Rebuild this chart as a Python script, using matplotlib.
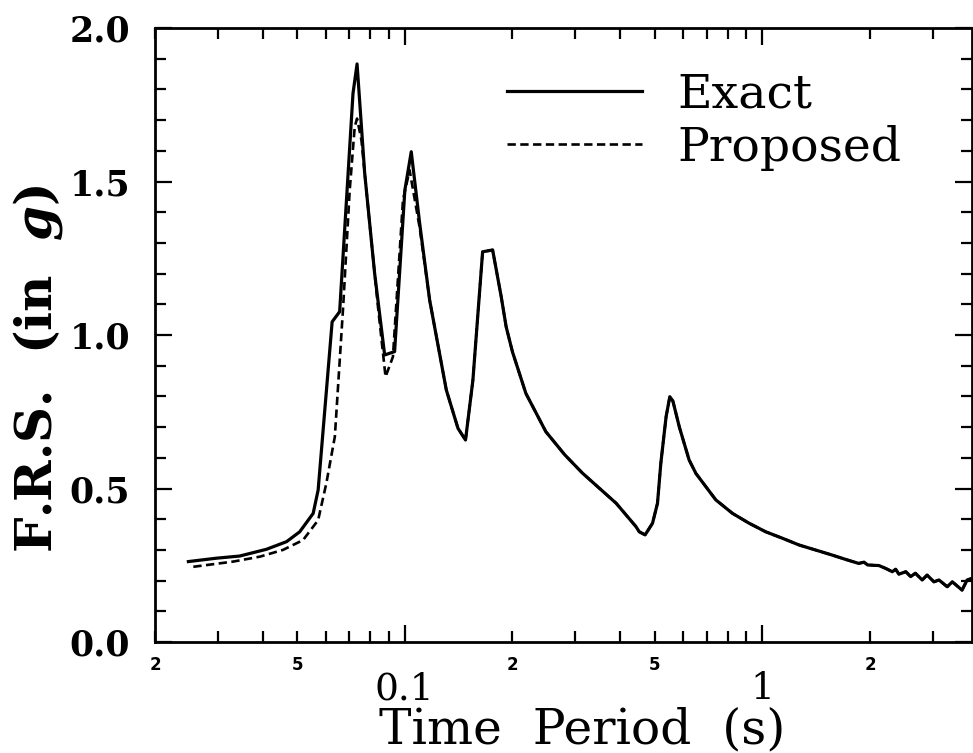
"""Floor response spectrum: exact vs proposed, log period axis."""

import matplotlib
matplotlib.use("Agg")
import matplotlib.pyplot as plt
from matplotlib.ticker import FixedLocator, FixedFormatter

# period (s) and F.R.S. (g)
period_exact = [0.0248, 0.0297, 0.0345, 0.0410, 0.0467, 0.0508, 0.0554, 0.0572,
                0.0626, 0.0657, 0.0716, 0.0735, 0.0772, 0.0823, 0.0878, 0.0936,
                0.1000, 0.1042, 0.1100, 0.1173, 0.1306, 0.1408, 0.1478, 0.1550,
                0.1650, 0.1760, 0.1860, 0.1920, 0.2000, 0.2180, 0.2480, 0.2800,
                0.3140, 0.3900, 0.4430, 0.4526, 0.4700, 0.4930, 0.5090, 0.5200,
                0.5380, 0.5510, 0.5620, 0.5860, 0.6240, 0.6520, 0.6950, 0.7410,
                0.8250, 0.9180, 1.0220, 1.1380, 1.2670, 1.5700, 1.7100, 1.8600,
                1.9250, 1.9700, 2.1200, 2.2100, 2.3100, 2.3600, 2.4100, 2.5200,
                2.6000, 2.6800, 2.8000, 2.8900, 3.0200, 3.1200, 3.2900, 3.4000,
                3.6200, 3.7400, 3.8500]
frs_exact = [0.262, 0.273, 0.280, 0.302, 0.327, 0.359, 0.419, 0.495,
             1.043, 1.076, 1.787, 1.883, 1.527, 1.201, 0.935, 0.946,
             1.472, 1.597, 1.364, 1.114, 0.821, 0.696, 0.658, 0.853,
             1.271, 1.277, 1.125, 1.027, 0.945, 0.810, 0.685, 0.610,
             0.550, 0.452, 0.376, 0.359, 0.349, 0.387, 0.452, 0.582,
             0.734, 0.799, 0.785, 0.700, 0.593, 0.549, 0.506, 0.463,
             0.419, 0.387, 0.359, 0.338, 0.316, 0.283, 0.269, 0.256,
             0.260, 0.251, 0.249, 0.240, 0.229, 0.237, 0.221, 0.229,
             0.213, 0.224, 0.202, 0.218, 0.196, 0.202, 0.180, 0.196,
             0.169, 0.202, 0.207]

# proposed curve differs only up to ~0.11 s, then follows the exact one
period_prop_head = [0.0256, 0.0331, 0.0393, 0.0456, 0.0519, 0.0572, 0.0603,
                    0.0637, 0.0672, 0.0701, 0.0724, 0.0735, 0.0756, 0.0797,
                    0.0841, 0.0883, 0.0926, 0.0988, 0.1031, 0.1100]
frs_prop_head = [0.245, 0.262, 0.278, 0.300, 0.332, 0.397, 0.517,
                 0.669, 1.092, 1.472, 1.678, 1.705, 1.635, 1.364,
                 1.092, 0.864, 0.929, 1.440, 1.537, 1.350]
tail_from = period_exact.index(0.1173)
period_prop = period_prop_head + period_exact[tail_from:]
frs_prop = frs_prop_head + frs_exact[tail_from:]

x_major = [0.1, 1]
x_major_labels = ["0.1", "1"]
x_minor = [0.02, 0.03, 0.04, 0.05, 0.06, 0.07, 0.08, 0.09,
           0.2, 0.3, 0.4, 0.5, 0.6, 0.7, 0.8, 0.9, 2, 3]
x_minor_labels = ["2", "", "", "5", "", "", "", "",
                  "2", "", "", "5", "", "", "", "", "2", ""]
y_major = [0.0, 0.5, 1.0, 1.5, 2.0]

plt.rcParams["font.family"] = "DejaVu Serif"
plt.rcParams["mathtext.fontset"] = "custom"
plt.rcParams["mathtext.it"] = "DejaVu Serif:italic:bold"
plt.rcParams["lines.scale_dashes"] = False

fig = plt.figure(figsize=(9.73, 7.53), dpi=100)
ax = fig.add_axes([0.1593, 0.1474, 0.8397, 0.8154])

ax.plot(period_exact, frs_exact, "-", color="black", lw=2.3, label="Exact")
ax.plot(period_prop, frs_prop, color="black", lw=1.9, dashes=(6, 3.2),
        label="Proposed")

ax.set_xscale("log")
ax.set_xlim(0.02, 3.86)
ax.set_ylim(0.0, 2.0)

ax.xaxis.set_major_locator(FixedLocator(x_major))
ax.xaxis.set_major_formatter(FixedFormatter(x_major_labels))
ax.xaxis.set_minor_locator(FixedLocator(x_minor))
ax.xaxis.set_minor_formatter(FixedFormatter(x_minor_labels))
ax.set_yticks(y_major)
ax.set_yticklabels(["%.1f" % v for v in y_major])
ax.yaxis.set_minor_locator(FixedLocator([v / 10 for v in range(1, 20)]))

ax.tick_params(which="both", direction="in", top=True, right=True, width=1.6)
ax.tick_params(which="major", length=12)
ax.tick_params(which="minor", length=8)
ax.tick_params(axis="x", which="major", pad=21, labelsize=27)
ax.tick_params(axis="x", which="minor", pad=10, labelsize=12)
ax.tick_params(axis="y", which="major", pad=18, labelsize=25)
for lab in ax.xaxis.get_minorticklabels():
    lab.set_family("DejaVu Sans")
    lab.set_fontweight("bold")
for lab in ax.get_yticklabels():
    lab.set_fontweight("bold")
for sp in ax.spines.values():
    sp.set_linewidth(2.0)

fig.text(0.598, 0.0133, "Time  Period  (s)", fontsize=35,
         ha="center", va="baseline")
fig.text(0.039, 0.511, "F.R.S.  (in  $g$)", fontsize=36, fontweight="bold",
         rotation=90, ha="center", va="center")

ax.legend(loc="upper left", bbox_to_anchor=(507 / 973, 1 - 72 / 753),
          bbox_transform=fig.transFigure, frameon=False, fontsize=34,
          handlelength=2.85, handletextpad=0.75, labelspacing=0.16,
          borderpad=0, borderaxespad=0)

fig.savefig("out.png", dpi=100)
